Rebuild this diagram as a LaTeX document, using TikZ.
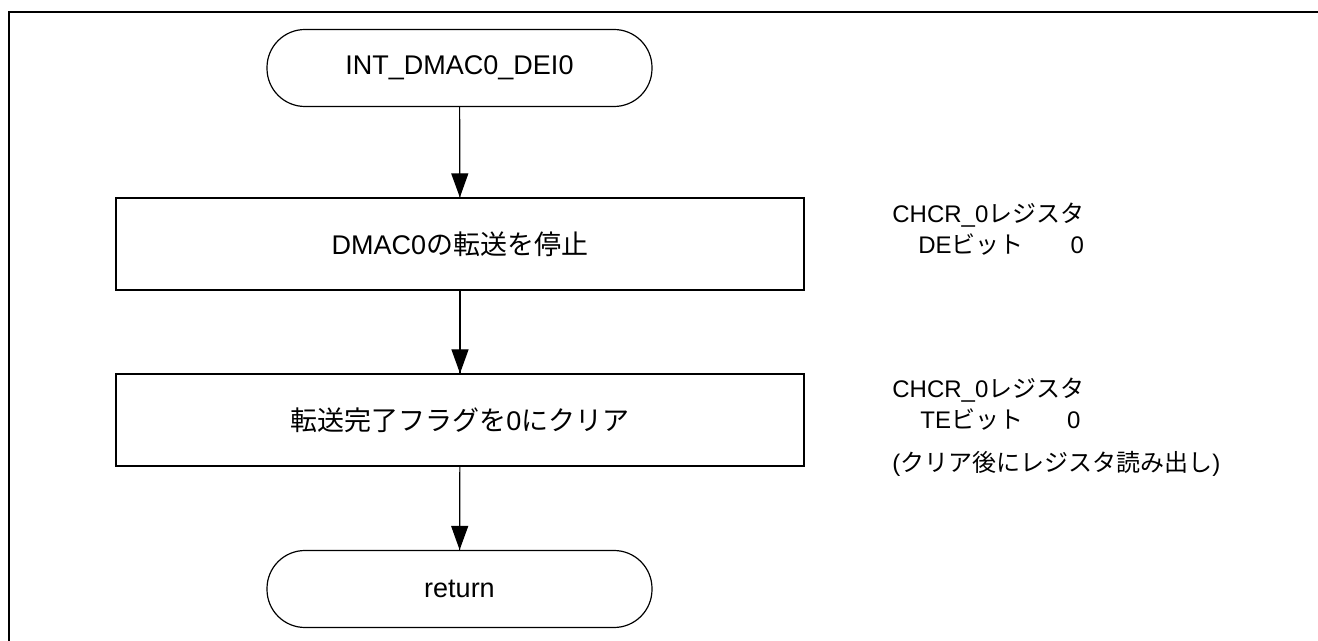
\documentclass[tikz,border=0pt]{standalone}
\usepackage{fontspec}
\setmainfont{Liberation Sans}
\newfontfamily\jp{Noto Sans CJK JP}
\usetikzlibrary{arrows.meta}
\usetikzlibrary{decorations.markings}
\tikzset{flow/.style = {decoration={markings,
                                    mark=at position 1 with {\arrow{Triangle[length=12pt, width=8.5pt]}}},
                        postaction={decorate}}}
\tikzset{terminal/.style = {draw, line width=0.6pt, rounded corners=19pt,
                            minimum width=192.5pt, minimum height=38.5pt, inner sep=0pt,
                            font=\fontsize{13.5}{16}\selectfont}}
\tikzset{process/.style = {draw, line width=0.6pt, minimum width=344pt, minimum height=46pt,
                           inner sep=0pt, font=\fontsize{13.5}{16}\selectfont}}
\tikzset{note/.style = {anchor=base west, align=left, inner sep=0pt,
                        font=\fontsize{12}{15.5}\selectfont}}

\begin{document}
\begin{tikzpicture}[x=0.5pt, y=-0.5pt]
      \useasboundingbox (0, 0) rectangle (1318, 641);
      \draw [line width=1pt] (8.5, 641) -- (8.5, 12) -- (1318, 12);

      \node [terminal] (start) at (459.5, 68) {INT\_DMAC0\_DEI0};
      \node [process] (stop) at (460, 244) {DMAC0{\jp の転送を停止}};
      \node [process] (clear) at (460, 420) {{\jp 転送完了フラグを}0{\jp にクリア}};
      \node [terminal] (ret) at (459.5, 589) {return};

      \draw [flow, line width=0.6pt] (start) -- (stop);
      \draw [flow, line width=0.6pt] (stop) -- (clear);
      \draw [flow, line width=0.6pt] (clear) -- (ret);

      % the base anchor sits on the last line
      \node [note] (stopnote) at (892, 253.5)
            {CHCR\_0{\jp レジスタ}\\
             \hspace*{13pt}DE{\jp ビット}\hspace{23.5pt}0};
      \node [note] (clearnote) at (892, 471.5)
            {CHCR\_0{\jp レジスタ}\\
             \hspace*{14pt}TE{\jp ビット}\hspace{22pt}0\\[6pt]
             ({\jp クリア後にレジスタ読み出し})};
    \end{tikzpicture}
\end{document}
